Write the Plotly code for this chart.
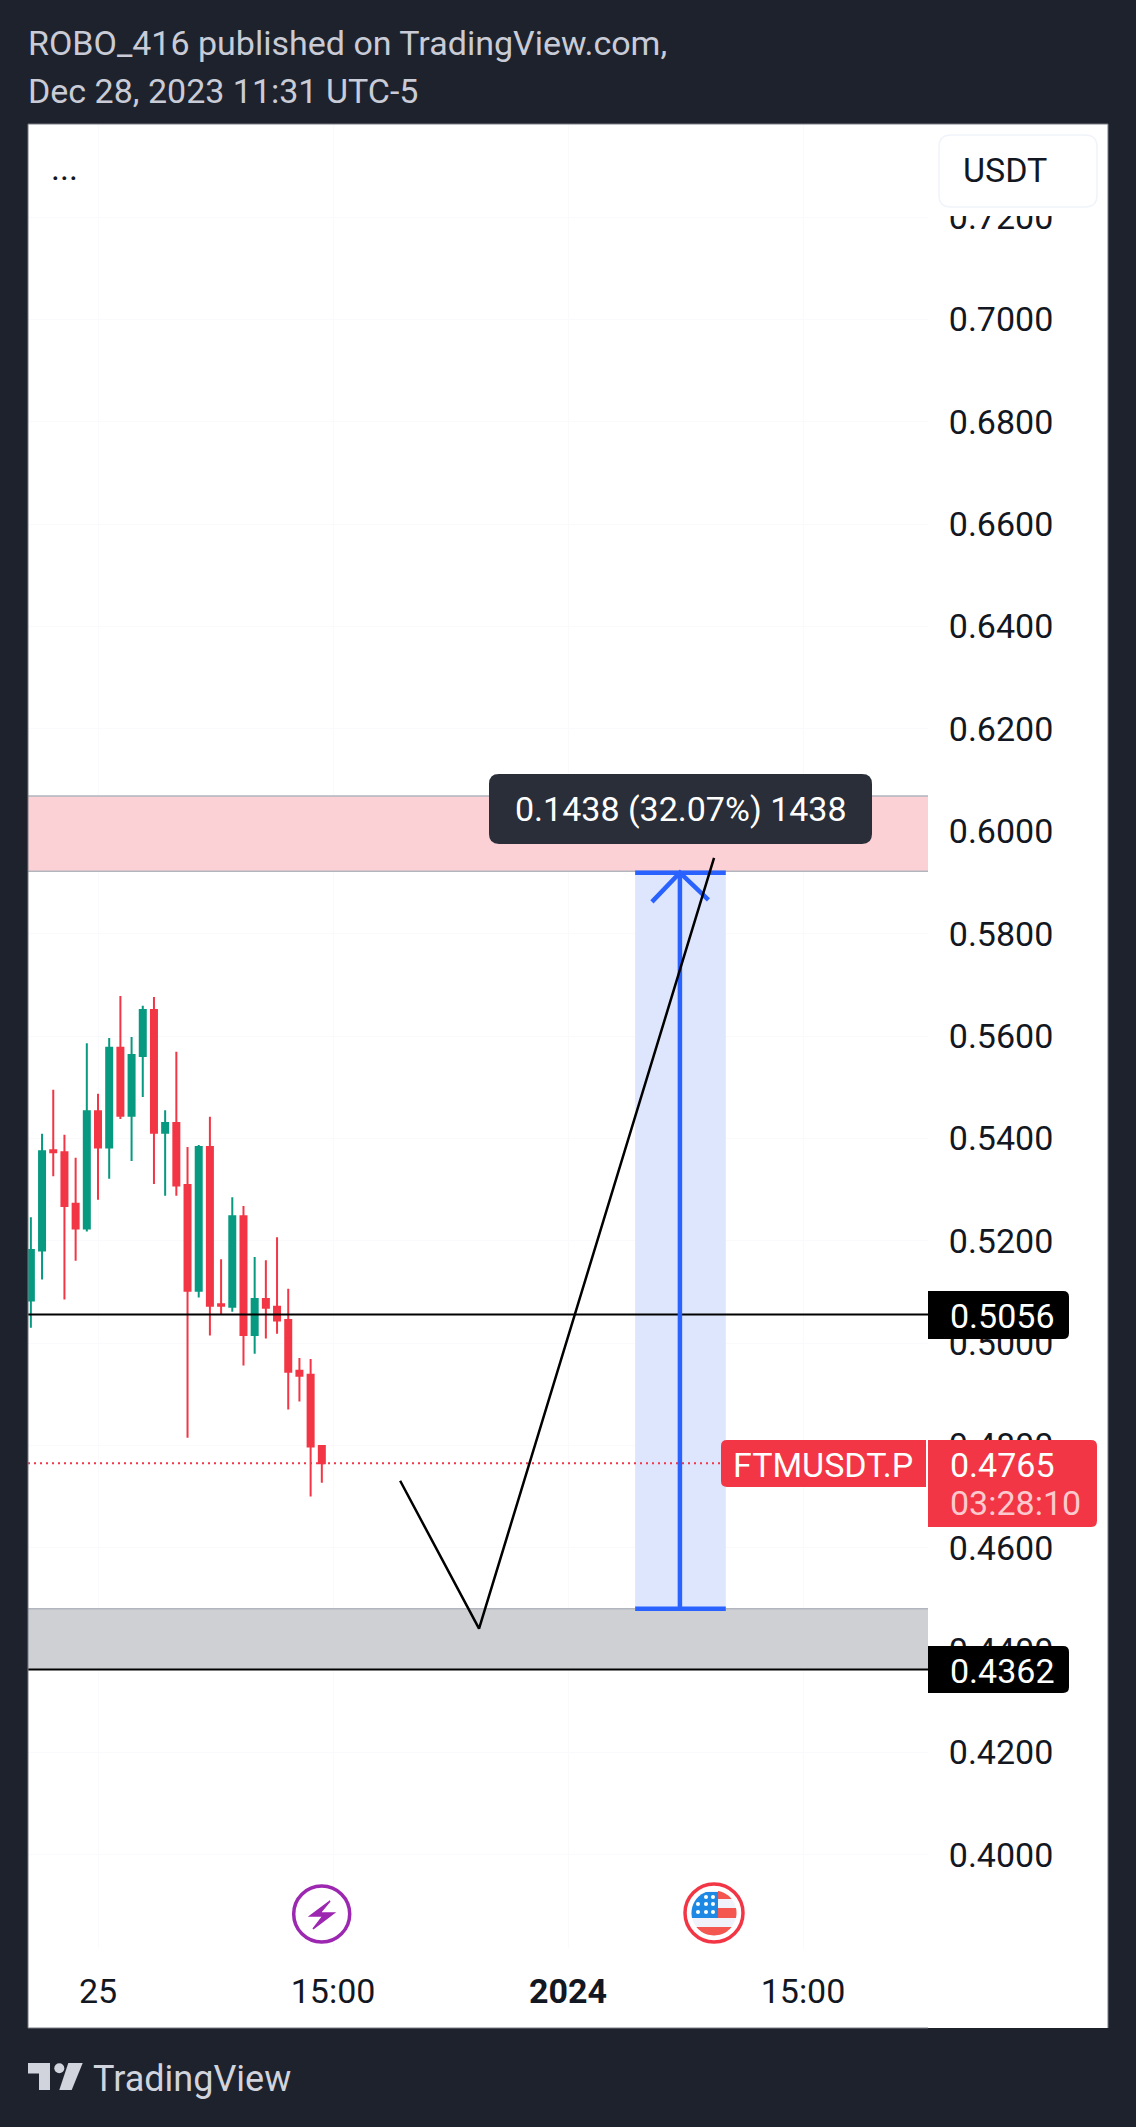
import numpy as np
import plotly.graph_objects as go

W, H = 1136, 2127

# Candles, one per bar
bar_index = list(range(27))
opens = [0.5083, 0.5181, 0.5377, 0.5373, 0.5272, 0.5224, 0.5453, 0.5382, 0.5577, 0.5444, 0.5561, 0.5651, 0.5411, 0.5430,
         0.5309, 0.5102, 0.5383, 0.5076, 0.5071, 0.5248, 0.5016, 0.5086, 0.5071, 0.5045, 0.4946, 0.4938, 0.4799]
highs = [0.5246, 0.5409, 0.5495, 0.5407, 0.5362, 0.5586, 0.5487, 0.5596, 0.5678, 0.5598, 0.5659, 0.5676, 0.5455, 0.5569,
         0.5383, 0.5387, 0.5442, 0.5164, 0.5285, 0.5268, 0.5168, 0.5162, 0.5207, 0.5106, 0.4971, 0.4969, 0.4801]
lows = [0.5030, 0.5124, 0.5326, 0.5085, 0.5161, 0.5218, 0.5280, 0.5321, 0.5438, 0.5356, 0.5481, 0.5311, 0.5288, 0.5288,
        0.4815, 0.5089, 0.5015, 0.5057, 0.5061, 0.4956, 0.4979, 0.5009, 0.5018, 0.4870, 0.4886, 0.4700, 0.4727]
closes = [0.5182, 0.5375, 0.5373, 0.5268, 0.5224, 0.5453, 0.5382, 0.5577, 0.5444, 0.5563, 0.5651, 0.5411, 0.5430, 0.5308,
          0.5102, 0.5383, 0.5073, 0.5073, 0.5248, 0.5016, 0.5086, 0.5069, 0.5044, 0.4944, 0.4936, 0.4798, 0.4765]

# Axis ticks
time_ticks = [6, 27, 48, 69]
time_labels = ['25', '15:00', '<b>2024</b>', '15:00']
x_range = [-0.256, 80.17]
y_range = [0.3818, 0.7382]

# Drawings on the chart
last_price = 0.4765
level_high = 0.5056
level_low = 0.4362
resistance_zone = [0.5922, 0.6069]
support_zone = [0.4362, 0.4481]
measure_x = [54, 58, 62.1]
measure_y = [0.4481, 0.5919]
arrow_head_x = [55.5, 58, 60.55]
arrow_head_y = [0.5862, 0.5919, 0.5866]
path_x = [33, 40.05, 61.05]
path_y = [0.4731, 0.4442, 0.5948]

BG = '#1e222d'
RED = '#f23645'
GREEN = '#089981'
BLUE = '#2962ff'
GREY = '#b2b5be'
TEXT = '#131722'
FONT = 'Roboto'
FONT_SIZE = 34


def pt(x, y):
    return f'{x / W:.5f},{1 - y / H:.5f}'


def poly(points, close=True):
    d = 'M' + ' L'.join(pt(x, y) for x, y in points)
    return d + (' Z' if close else '')


def paper_shape(path, fill=None, line=None, width=0, layer='above'):
    s = dict(type='path', xref='paper', yref='paper', path=path, layer=layer, line=dict(width=width))
    if fill:
        s['fillcolor'] = fill
    if line:
        s['line']['color'] = line
    return s


# Rounded box, left and right radius apart
def rbox(x0, y0, x1, y1, rl=0, rr=0):
    return (f'M{pt(x0 + rl, y0)} L{pt(x1 - rr, y0)} Q{pt(x1, y0)} {pt(x1, y0 + rr)} '
            f'L{pt(x1, y1 - rr)} Q{pt(x1, y1)} {pt(x1 - rr, y1)} L{pt(x0 + rl, y1)} '
            f'Q{pt(x0, y1)} {pt(x0, y1 - rl)} L{pt(x0, y0 + rl)} Q{pt(x0, y0)} {pt(x0 + rl, y0)} Z')


def circle(cx, cy, r, **kw):
    return dict(type='circle', xref='paper', yref='paper', x0=(cx - r) / W, x1=(cx + r) / W,
                y0=1 - (cy + r) / H, y1=1 - (cy - r) / H, layer='above', **kw)


# Horizontal band of a circle, for the flag stripes
def band(cx, cy, r, y0, y1, xmin=None, xmax=None):
    ys = np.linspace(y0, y1, 12)
    half = np.sqrt(np.maximum(r ** 2 - (ys - cy) ** 2, 0))
    right = cx + half
    left = cx - half
    if xmin is not None:
        left = np.maximum(left, xmin)
        right = np.maximum(right, xmin)
    if xmax is not None:
        left = np.minimum(left, xmax)
        right = np.minimum(right, xmax)
    pts = list(zip(right, ys)) + list(zip(left[::-1], ys[::-1]))
    return poly(pts)


def label(x, y, text, color='white', size=FONT_SIZE, anchor='left'):
    return dict(xref='paper', yref='paper', x=x / W, y=1 - y / H, text=text, showarrow=False, xanchor=anchor,
                yanchor='middle', borderpad=0, font=dict(family=FONT, size=size, color=color))


def hline(y, color, width, dash='solid', layer='between'):
    return dict(type='line', xref='x', yref='y', x0=x_range[0], x1=x_range[1], y0=y, y1=y, layer=layer,
                line=dict(color=color, width=width, dash=dash))


fig = go.Figure()

fig.add_trace(go.Candlestick(
    x=bar_index, open=opens, high=highs, low=lows, close=closes,
    increasing=dict(line=dict(color=GREEN, width=2), fillcolor=GREEN),
    decreasing=dict(line=dict(color=RED, width=2), fillcolor=RED),
    whiskerwidth=0, hoverinfo='skip', showlegend=False))

for level in [level_high, level_low]:
    fig.add_trace(go.Scatter(x=x_range, y=[level, level], mode='lines', line=dict(color='black', width=2),
                             hoverinfo='skip', showlegend=False))

# Price range tool
for y in measure_y:
    fig.add_trace(go.Scatter(x=[measure_x[0], measure_x[2]], y=[y, y], mode='lines', line=dict(color=BLUE, width=4.5),
                             hoverinfo='skip', showlegend=False))
fig.add_trace(go.Scatter(x=[measure_x[1], measure_x[1]], y=measure_y, mode='lines', line=dict(color=BLUE, width=4.5),
                         hoverinfo='skip', showlegend=False))
fig.add_trace(go.Scatter(x=arrow_head_x, y=arrow_head_y, mode='lines', line=dict(color=BLUE, width=4.5),
                         hoverinfo='skip', showlegend=False))

fig.add_trace(go.Scatter(x=path_x, y=path_y, mode='lines', line=dict(color='black', width=2.5),
                         hoverinfo='skip', showlegend=False))

flag_c = (714, 1913, 22.5)

shapes = [
    # white panel and its frame
    paper_shape(poly([(28, 124), (1108, 124), (1108, 2028), (28, 2028)]), fill='white', layer='below'),
    paper_shape(poly([(928, 2028), (28, 2028), (28, 124), (1108, 124), (1108, 2028)], close=False),
                line='#787b86', width=1, layer='above'),
    # zones
    dict(type='rect', xref='x', yref='y', x0=x_range[0], x1=x_range[1], y0=resistance_zone[0], y1=resistance_zone[1],
         fillcolor='#fcd1d6', line=dict(width=0), layer='between'),
    dict(type='rect', xref='x', yref='y', x0=x_range[0], x1=x_range[1], y0=support_zone[0], y1=support_zone[1],
         fillcolor='#ced0d3', line=dict(width=0), layer='between'),
    hline(resistance_zone[0], GREY, 1.5),
    hline(resistance_zone[1], GREY, 1.5),
    hline(support_zone[1], GREY, 1.5),
    dict(type='rect', xref='x', yref='y', x0=measure_x[0], x1=measure_x[2], y0=measure_y[0], y1=measure_y[1],
         fillcolor='#dde6fd', line=dict(width=0), layer='between'),
    hline(last_price, RED, 2, dash='2px,4px'),
    # covers over the price scale
    paper_shape(poly([(930, 125), (1107, 125), (1107, 216), (930, 216)]), fill='white'),
    paper_shape(rbox(939, 135, 1097, 207, 12, 12), fill='white', line='#f0f3fa', width=1.5),
    paper_shape(rbox(928, 1291, 1069, 1339, 0, 6), fill='black'),
    paper_shape(rbox(928, 1646, 1069, 1693, 0, 6), fill='black'),
    paper_shape(rbox(928, 1440, 1097, 1527, 0, 6), fill=RED),
    paper_shape(rbox(721, 1440, 926, 1487, 6, 0), fill=RED),
    paper_shape(rbox(489, 774, 872, 844, 10, 10), fill='#2a2e39'),
    # lightning icon
    circle(321.7, 1914, 28, line=dict(color='#9c27b0', width=3.5), fillcolor='white'),
    paper_shape(poly([(330, 1901), (310, 1916), (323, 1916), (313, 1929), (334, 1913), (320, 1913)]),
                fill='#9c27b0', line='#9c27b0', width=1.5),
    # flag icon
    circle(714, 1913, 29, line=dict(color=RED, width=3.5), fillcolor='white'),
    circle(714, 1913, 22.5, line=dict(width=0), fillcolor='#f0f3fa'),
    paper_shape(band(*flag_c, 1892, 1918, xmax=718), fill='#1e88e5'),
    paper_shape(band(*flag_c, 1891, 1899, xmin=718), fill='#f4574f'),
    paper_shape(band(*flag_c, 1908, 1918, xmin=718), fill='#f4574f'),
    paper_shape(band(*flag_c, 1927, 1935.5), fill='#f4574f'),
    # logo
    paper_shape(poly([(28, 2063), (50, 2063), (50, 2090), (39, 2090), (39, 2073.5), (28, 2073.5)]), fill='#d1d4dc'),
    circle(59.3, 2068.3, 5, line=dict(width=0), fillcolor='#d1d4dc'),
    paper_shape(poly([(68.3, 2063), (82.7, 2063), (71.7, 2090), (59.3, 2090)]), fill='#d1d4dc'),
]

# flag stars
for sx, sy in [(706, 1897), (713, 1897), (698, 1904), (706, 1904), (713, 1904), (698, 1912), (706, 1912), (713, 1912)]:
    shapes.append(circle(sx, sy, 2, line=dict(width=0), fillcolor='white'))

annotations = [
    label(27, 43, 'ROBO_416 published on TradingView.com,', color='#c9ccd6'),
    label(27, 91, 'Dec 28, 2023 11:31 UTC-5', color='#c9ccd6'),
    label(50, 168, '...', color=TEXT),
    label(962, 170, 'USDT', color=TEXT),
    label(949, 1316, f'{level_high:.4f}'),
    label(949, 1671, f'{level_low:.4f}'),
    label(949, 1465, f'{last_price:.4f}'),
    label(949, 1503, '03:28:10', color='#fcc9ce'),
    label(732, 1465, 'FTMUSDT.P'),
    label(514, 809, '0.1438 (32.07%) 1438'),
    label(92, 2079, 'TradingView', color='#d1d4dc', size=36),
]

fig.update_layout(
    width=W, height=H,
    margin=dict(l=0, r=0, t=0, b=0),
    paper_bgcolor=BG,
    plot_bgcolor='white',
    font=dict(family=FONT, size=FONT_SIZE, color=TEXT),
    showlegend=False,
    boxgap=0.234,
    hovermode=False,
    shapes=shapes,
    annotations=annotations,
)
fig.update_xaxes(
    domain=[28 / W, 928 / W], range=x_range, rangeslider_visible=False,
    tickmode='array', tickvals=time_ticks, ticktext=time_labels,
    showgrid=True, gridcolor='#fafafc', gridwidth=1, zeroline=False, showline=False,
    ticks='outside', ticklen=13, tickcolor='rgba(0,0,0,0)', tickfont=dict(family=FONT, size=FONT_SIZE, color=TEXT),
)
fig.update_yaxes(
    domain=[1 - 1948 / H, 1 - 124 / H], range=y_range, side='right',
    tick0=0.4, dtick=0.02, tickformat='.4f',
    showgrid=True, gridcolor='#fafafc', gridwidth=1, zeroline=False, showline=False,
    ticks='outside', ticklen=13, tickcolor='rgba(0,0,0,0)', tickfont=dict(family=FONT, size=FONT_SIZE, color=TEXT),
)

fig.write_html("out.html", config=dict(displayModeBar=False), post_script="document.body.style.margin='0';")
